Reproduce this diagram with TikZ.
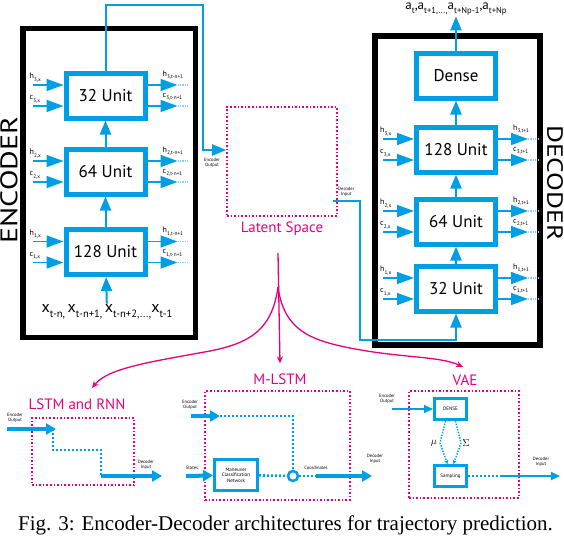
\documentclass[tikz,border=0pt]{standalone}
\usepackage{fontspec}
\setmainfont{Liberation Serif}
\setsansfont{PT Sans}
\usetikzlibrary{arrows.meta, positioning}

\definecolor{ublue}{RGB}{0,158,226}
\definecolor{upink}{RGB}{230,0,126}
\newcommand\lowsub[1]{\raisebox{-0.6ex}{\scalebox{0.66}{#1}}}

\tikzset{
  unit/.style={draw=ublue, line width=5pt, minimum width=79pt, minimum height=45pt, inner sep=0pt, font=\sffamily\fontsize{17}{17}\selectfont},
  smallunit/.style={draw=ublue, line width=3pt, minimum width=32pt, minimum height=21pt, inner sep=0pt, font=\sffamily\fontsize{5}{5.5}\selectfont, align=center},
  coder/.style={draw=black, line width=5.5pt, inner sep=0pt},
  latent/.style={draw=upink, line width=1.6pt, dash pattern=on 1.6pt off 2pt, inner sep=0pt},
  feed/.style={draw=ublue, line width=2pt, -{Triangle[length=14pt,width=11pt]}},
  side/.style={draw=ublue, line width=1.6pt, -{Triangle[length=17pt,width=12pt]}},
  fade/.style={draw=ublue!45, line width=1.5pt, dash pattern=on 1.2pt off 1.2pt},
  tiny/.style={font=\sffamily\fontsize{8}{8}\selectfont, inner sep=0pt},
  note/.style={font=\sffamily\fontsize{4.6}{5}\selectfont, align=center, inner sep=0pt},
  title/.style={font=\sffamily\fontsize{15}{15}\selectfont, text=upink, inner sep=0pt},
  bigflow/.style={draw=ublue, line width=4pt, -{Triangle[length=10pt,width=11pt]}},
  thinflow/.style={draw=ublue, line width=2pt, -{Triangle[length=9pt,width=8pt]}},
  dots/.style={draw=ublue, line width=2.6pt, dash pattern=on 2pt off 2pt},
  fine dots/.style={draw=ublue, line width=1.4pt, dash pattern=on 1.4pt off 1.4pt},
  fork/.style={draw=upink, line width=1.3pt, -{Stealth[length=7pt,width=6pt]}},
}

\begin{document}
\begin{tikzpicture}[x=1pt, y=-1pt]
\useasboundingbox (0,0) rectangle (564,536);

% encoder
\node[coder, minimum width=172.5pt, minimum height=309pt] (enc) at (109.25,183) {};
\node[rotate=90, font=\sffamily\fontsize{24}{24}\selectfont, inner sep=0pt] (enctext) at (9,180) {\scalebox{1.25}[1]{ENCODER}};
\node[unit] (e3) at (105.5,95.5) {32 Unit};
\node[unit] (e2) at (105.5,171.5) {64 Unit};
\node[unit] (e1) at (105.5,252) {128 Unit};
\node[font=\sffamily\fontsize{16}{16}\selectfont, inner sep=1pt] (xseq) at (107,312)
  {x\lowsub{t-n,}\,x\lowsub{t-n+1,}\,x\lowsub{t-n+2}\lowsub{,...,}x\lowsub{t-1}};
\draw[feed] (xseq) -- (e1);
\draw[feed] (e1) -- (e2);
\draw[feed] (e2) -- (e3);

% decoder
\node[coder, minimum width=165pt, minimum height=309pt] (dec) at (457.5,190.5) {};
\node[rotate=-90, font=\sffamily\fontsize{22}{22}\selectfont, inner sep=0pt] (dectext) at (555,183) {\scalebox{1.25}[1]{DECODER}};
\node[unit] (dense) at (456,75.5) {Dense};
\node[unit] (d3) at (456,149.5) {128 Unit};
\node[unit] (d2) at (456,221.5) {64 Unit};
\node[unit] (d1) at (456,288.5) {32 Unit};
\node[font=\sffamily\fontsize{13}{13}\selectfont, inner sep=1pt] (aseq) at (456,9)
  {a\lowsub{t},a\lowsub{t+1}\lowsub{,...,}a\lowsub{t+Np-1},a\lowsub{t+Np}};
\draw[feed] (d1) -- (d2);
\draw[feed] (d2) -- (d3);
\draw[feed] (d3) -- (dense);
\draw[feed] (dense) -- (aseq);

% states in and out of each unit
\foreach \u/\k/\t in {e3/3/t-n+1, e2/2/t-n+1, e1/1/t-n+1, d3/3/t+1, d2/2/t+1, d1/1/t+1}{
  \coordinate (\u-hl) at ([xshift=-31pt,yshift=10.5pt]\u.west);
  \coordinate (\u-cl) at ([xshift=-31pt,yshift=-10.5pt]\u.west);
  \coordinate (\u-hr) at ([xshift=30pt,yshift=10.5pt]\u.east);
  \coordinate (\u-cr) at ([xshift=30pt,yshift=-10.5pt]\u.east);
  \coordinate (\u-hx) at ([xshift=42pt,yshift=10.5pt]\u.east);
  \coordinate (\u-cx) at ([xshift=42pt,yshift=-10.5pt]\u.east);
  \draw[side] (\u-hl) -- (\u-hl -| \u.west);
  \draw[side] (\u-cl) -- (\u-cl -| \u.west);
  \draw[side] (\u-hr -| \u.east) -- (\u-hr);
  \draw[side] (\u-cr -| \u.east) -- (\u-cr);
  \draw[fade] (\u-hr) -- (\u-hx);
  \draw[fade] (\u-cr) -- (\u-cx);
  \node[tiny, anchor=south west] at ([xshift=-3pt,yshift=3pt]\u-hl) {h\lowsub{\k,x}};
  \node[tiny, anchor=south west] at ([xshift=-3pt,yshift=3pt]\u-cl) {c\lowsub{\k,x}};
  \node[tiny, anchor=south west] at ([xshift=-15pt,yshift=5.5pt]\u-hr) {h\lowsub{\k,\t}};
  \node[tiny, anchor=south west] at ([xshift=-15pt,yshift=5.5pt]\u-cr) {c\lowsub{\k,\t}};
}

% latent space
\node[latent, minimum width=110pt, minimum height=109pt] (ls) at (282,161.5) {};
\node[title, below=5pt of ls] (lstext) {Latent Space};
\coordinate (eo) at (203,5);
\coordinate (dr) at (360,340);
\draw[feed] (e3) |- (eo) |- ([yshift=11.5pt]ls.west);
\draw[feed] ([xshift=-5pt,yshift=-39.5pt]ls.east) -| (dr) -| (d1);
\node[note, anchor=north west] (eotext) at (204,158) {Encoder\\Output};
\node[note, anchor=south west] (ditext) at (338,197) {Decoder\\Input};

% branches
\coordinate (ftop) at (278,253);
\coordinate (cusp) at (278,287);
\node[title] (lt) at (77,404) {LSTM and RNN};
\node[title] (mt) at (280,379) {M-LSTM};
\node[title] (vt) at (465,380) {VAE};
\coordinate (lt-in) at (92,388);
\coordinate (vt-in) at (463,367);
\draw[fork] (ftop) -- ([yshift=10pt]mt.north);
\draw[fork] (cusp) .. controls (272,330) and (250,343) .. (210,351) .. controls (150,362) and (108,368) .. (lt-in);
\draw[fork] (cusp) .. controls (284,330) and (310,340) .. (350,348) .. controls (400,358) and (440,356) .. (vt-in);

% LSTM and RNN
\node[latent, minimum width=102pt, minimum height=67pt] (lbox) at (83,451.5) {};
\node[note] (leo) at (15,418) {Encoder\\Output};
\node[note] (ldi) at (146,465) {Decoder\\Input};
\coordinate (l-in) at (7,429);
\coordinate (l-turn) at (56,429);
\coordinate (l-step) at (101,450);
\coordinate (l-out) at (101,476);
\coordinate (l-end) at (162,476);
\draw[bigflow] (l-in) -- (l-turn);
\draw[dots] ([xshift=-3pt]l-turn) |- (l-step) -- (l-out);
\draw[bigflow] (l-out) -- (l-end);

% M-LSTM
\node[latent, minimum width=145pt, minimum height=109pt] (mbox) at (277.5,445.5) {};
\node[note] (meo) at (190,405) {Encoder\\Output};
\node[note] (mst) at (192,468) {States};
\node[smallunit, minimum width=43pt, minimum height=31pt] (mcn) at (236,475) {Maneuver\\Classification\\Network};
\node[draw=ublue, circle, line width=2.5pt, minimum size=10pt, inner sep=0pt] (mc) at (293,476) {};
\node[note] (mco) at (316,468) {Coordinates};
\node[note] (mdi) at (375,459) {Decoder\\Input};
\coordinate (m-in) at (191,416);
\coordinate (m-turn) at (220,416);
\coordinate (m-st) at (186,476);
\coordinate (m-sol) at (316,476);
\coordinate (m-end) at (372,476);
\draw[bigflow] (m-in) -- (m-turn);
\draw[dots] (m-turn) -| (mc);
\draw[bigflow] (m-st) -- (mcn);
\draw[dots] (mcn) -- (mc);
\draw[dots] (mc) -- (m-sol);
\draw[bigflow] (m-sol) -- (m-end);

% VAE
\node[latent, minimum width=110pt, minimum height=107pt] (vbox) at (464,444.5) {};
\node[note] (veo) at (387,399) {Encoder\\Output};
\node[smallunit] (vd) at (450.5,409) {DENSE};
\node[smallunit] (vs) at (450.5,476) {Sampling};
\node[font=\sffamily\fontsize{10}{10}\selectfont, inner sep=0pt] (mu) at (434,443) {$\mu$};
\node[font=\sffamily\fontsize{10}{10}\selectfont, inner sep=0pt] (sig) at (466,443) {$\Sigma$};
\node[note] (vdi) at (541,462) {Decoder\\Input};
\coordinate (v-in) at (392,409);
\coordinate (v-l) at (440,443);
\coordinate (v-r) at (461,443);
\coordinate (v-sol) at (500,476);
\coordinate (v-end) at (560,476);
\draw[thinflow] (v-in) -- (vd);
\draw[fine dots, -{Stealth[length=4pt,width=4pt]}] ([xshift=-5pt]vd.south) -- (v-l) -- ([xshift=-3pt]vs.north);
\draw[fine dots, -{Stealth[length=4pt,width=4pt]}] ([xshift=5pt]vd.south) -- (v-r) -- ([xshift=3pt]vs.north);
\draw[dots, line width=1.8pt] (vs) -- (v-sol);
\draw[thinflow] (v-sol) -- (v-end);

% caption
\node[anchor=base, font=\rmfamily\fontsize{21}{21}\selectfont, inner sep=0pt] (cap) at (285.5,530)
  {Fig. 3: Encoder-Decoder architectures for trajectory prediction.};
\end{tikzpicture}
\end{document}
